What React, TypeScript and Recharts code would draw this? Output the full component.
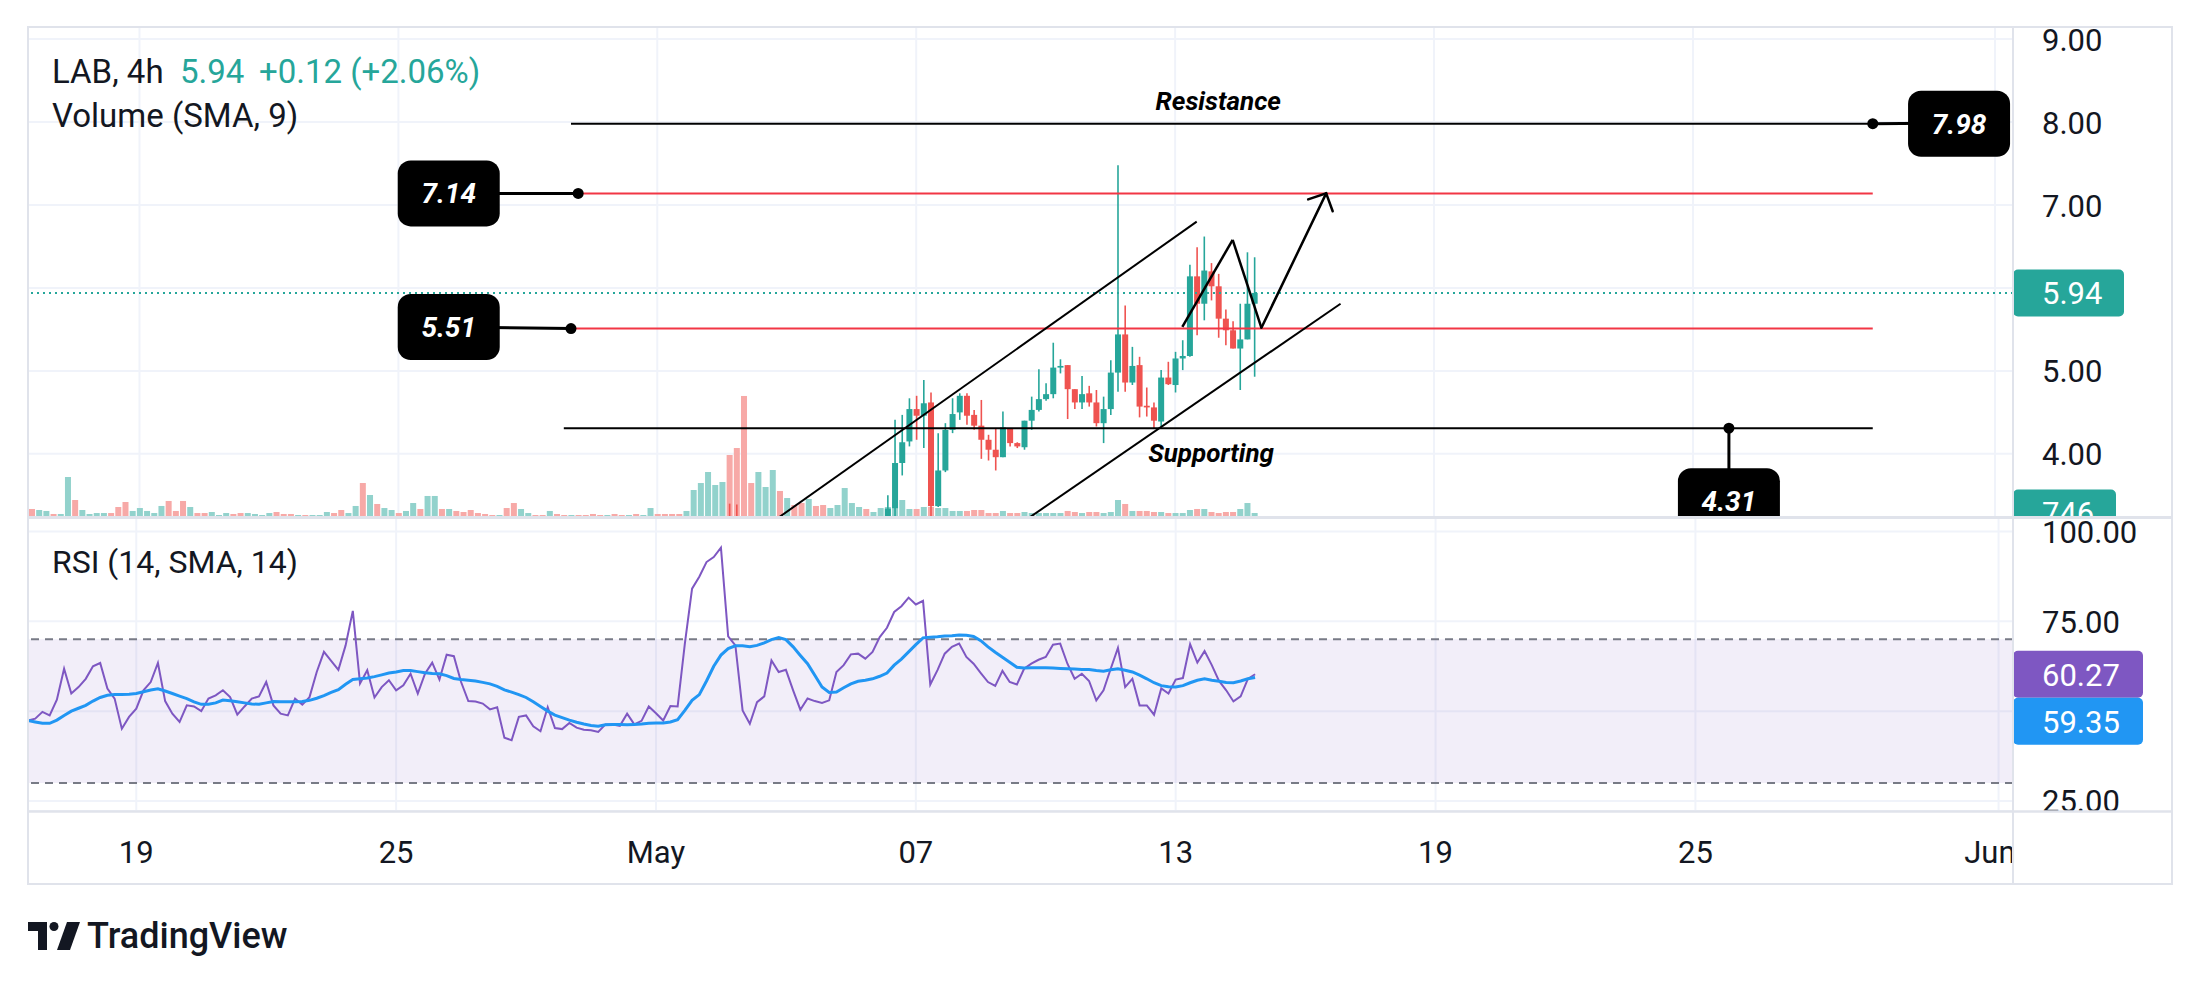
import React from "react"
import {
  ComposedChart,
  Bar,
  Line,
  XAxis,
  YAxis,
  CartesianGrid,
  ReferenceLine,
  ReferenceDot,
  ReferenceArea,
} from "recharts"

// 4h bars, slot 0 = Apr 16 12:00, slot 87 = May 1 00:00
const SLOTS = 276
const dateTicks = [15, 51, 87, 123, 159, 195, 231, 273]
const dateLabels = ["19", "25", "May", "07", "13", "19", "25", "Jun"]
const priceTicks = [4, 5, 6, 7, 8, 9]
const rsiTicks = [25, 50, 75, 100]

// [slot, open, high, low, close]
const candles: number[][] = [
  [97, 3.2, 3.4, 2.9, 3.0],
  [98, 3.15, 3.39, 2.9, 3.05],
  [119, 3.15, 3.5, 3.1, 3.34],
  [120, 3.345, 4.41, 3.25, 3.89],
  [121, 3.89, 4.47, 3.74, 4.14],
  [122, 4.15, 4.67, 4.09, 4.54],
  [123, 4.54, 4.7, 4.17, 4.46],
  [124, 4.46, 4.89, 4.07, 4.61],
  [125, 4.62, 4.74, 3.2, 3.37],
  [126, 3.37, 4.25, 3.36, 3.8],
  [127, 3.8, 4.37, 3.78, 4.29],
  [128, 4.29, 4.67, 4.25, 4.48],
  [129, 4.5, 4.73, 4.41, 4.7],
  [130, 4.7, 4.73, 4.35, 4.46],
  [131, 4.47, 4.53, 4.29, 4.34],
  [132, 4.34, 4.65, 3.94, 4.17],
  [133, 4.17, 4.23, 3.92, 4.05],
  [134, 4.05, 4.31, 3.8, 3.96],
  [135, 3.96, 4.51, 3.96, 4.32],
  [136, 4.31, 4.31, 4.09, 4.13],
  [137, 4.13, 4.14, 4.07, 4.09],
  [138, 4.08, 4.4, 4.05, 4.4],
  [139, 4.4, 4.69, 4.29, 4.53],
  [140, 4.53, 5.02, 4.51, 4.66],
  [141, 4.66, 4.85, 4.64, 4.72],
  [142, 4.72, 5.34, 4.67, 5.04],
  [143, 5.04, 5.14, 4.97, 5.06],
  [144, 5.07, 5.07, 4.42, 4.78],
  [145, 4.78, 4.78, 4.54, 4.62],
  [146, 4.62, 4.94, 4.54, 4.72],
  [147, 4.73, 4.82, 4.57, 4.62],
  [148, 4.62, 4.77, 4.33, 4.37],
  [149, 4.37, 4.69, 4.13, 4.54],
  [150, 4.54, 5.13, 4.47, 4.98],
  [151, 4.98, 7.48, 4.75, 5.44],
  [152, 5.44, 5.79, 4.75, 4.86],
  [153, 4.86, 5.29, 4.83, 5.06],
  [154, 5.07, 5.17, 4.44, 4.57],
  [155, 4.58, 4.8, 4.45, 4.56],
  [156, 4.56, 4.62, 4.31, 4.4],
  [157, 4.39, 5.01, 4.33, 4.92],
  [158, 4.92, 5.11, 4.83, 4.84],
  [159, 4.83, 5.23, 4.74, 5.15],
  [160, 5.15, 5.37, 5.01, 5.18],
  [161, 5.18, 6.28, 5.17, 6.14],
  [162, 6.14, 6.49, 5.43, 5.81],
  [163, 5.81, 6.62, 5.61, 6.21],
  [164, 6.2, 6.3, 5.85, 6.02],
  [165, 6.02, 6.17, 5.4, 5.63],
  [166, 5.63, 5.74, 5.31, 5.49],
  [167, 5.49, 5.6, 5.27, 5.27],
  [168, 5.27, 5.81, 4.77, 5.38],
  [169, 5.38, 6.43, 5.38, 5.81],
  [170, 5.81, 6.37, 4.93, 5.94],
]

const volume = [
  1490, 1300, 1120, 560, 560, 7440, 3160, 1300, 560, 740,
  740, 740, 1860, 2790, 1120, 1670, 1120, 740, 2050, 2980,
  1120, 2980, 1860, 740, 740, 930, 370, 740, 560, 740,
  740, 560, 370, 740, 930, 560, 560, 370, 370, 370,
  370, 930, 740, 1300, 740, 2050, 6320, 4090, 2420, 1670,
  1300, 740, 1120, 2600, 1490, 3910, 3910, 1490, 1490, 1120,
  930, 1300, 740, 560, 370, 370, 1670, 2600, 1490, 740,
  370, 370, 1120, 560, 370, 370, 370, 370, 560, 370,
  370, 560, 370, 370, 560, 370, 1670, 560, 560, 560,
  560, 1120, 5020, 6320, 8370, 5950, 6510, 11530, 12830, 22510,
  6320, 8370, 5580, 8740, 4840, 3530, 2230, 2600, 3350, 2050,
  2230, 1670, 2230, 5390, 2600, 1860, 1490, 930, 1670, 1860,
  2790, 3160, 1490, 1490, 1860, 1860, 1670, 1670, 1120, 1120,
  1120, 1300, 1300, 740, 740, 1120, 740, 740, 930, 740,
  740, 740, 740, 740, 1120, 930, 740, 930, 930, 740,
  930, 3160, 2420, 1120, 1120, 1120, 930, 930, 740, 740,
  740, 1300, 1490, 1490, 930, 740, 930, 930, 1490, 2600, 746,
]

// 1 = up bar, 0 = down bar
const volumeUp = [
  0, 1, 1, 0, 1, 1, 0, 1, 1, 1,
  1, 0, 0, 0, 1, 1, 1, 1, 1, 0,
  0, 0, 1, 0, 0, 1, 1, 1, 0, 0,
  1, 1, 1, 1, 0, 0, 0, 1, 0, 1,
  1, 1, 0, 0, 1, 1, 0, 1, 0, 1,
  1, 0, 1, 1, 0, 1, 1, 0, 1, 0,
  0, 0, 0, 0, 0, 1, 0, 0, 1, 1,
  0, 0, 1, 0, 0, 1, 0, 0, 0, 0,
  1, 0, 0, 1, 0, 1, 1, 0, 0, 0,
  0, 1, 1, 1, 1, 1, 1, 0, 0, 0,
  0, 1, 1, 1, 0, 1, 0, 0, 1, 0,
  0, 1, 1, 1, 1, 1, 0, 1, 1, 1,
  1, 1, 1, 0, 1, 0, 1, 1, 1, 1,
  0, 0, 0, 0, 0, 1, 0, 0, 1, 1,
  1, 1, 1, 1, 0, 0, 1, 0, 0, 1,
  1, 1, 0, 1, 0, 0, 0, 1, 0, 1,
  1, 1, 0, 1, 0, 0, 0, 0, 1, 1, 1,
]

const rsi = [
  47.4, 47.9, 49.8, 48.8, 53.2, 61.8, 54.9, 56.7, 59.0, 62.5,
  63.4, 56.3, 53.5, 45.1, 48.4, 50.7, 55.8, 58.1, 63.4, 52.8,
  49.3, 47.0, 51.6, 51.3, 50.0, 53.5, 54.4, 55.8, 53.9, 49.0,
  51.3, 53.5, 54.1, 58.1, 51.6, 49.3, 48.8, 53.5, 51.8, 53.9,
  60.9, 66.5, 64.0, 61.5, 68.3, 77.9, 57.7, 61.4, 53.8, 56.7,
  58.6, 55.8, 57.2, 60.4, 54.9, 60.4, 63.5, 58.8, 65.7, 65.3,
  58.1, 52.8, 52.7, 52.1, 50.5, 51.1, 42.6, 41.9, 48.4, 48.8,
  45.8, 44.4, 51.1, 45.3, 45.0, 46.7, 45.4, 44.8, 44.7, 44.2,
  46.3, 46.3, 45.9, 49.3, 46.3, 47.3, 51.3, 49.4, 47.4, 51.4,
  51.3, 68.8, 84.1, 87.4, 91.5, 92.9, 95.5, 70.8, 68.3, 50.2,
  46.5, 52.5, 54.1, 64.1, 60.9, 61.5, 55.8, 50.4, 53.5, 52.8,
  52.3, 53.0, 60.9, 62.8, 65.8, 66.0, 64.6, 66.5, 70.6, 73.2,
  77.6, 79.2, 81.6, 79.7, 80.7, 57.4, 61.4, 66.0, 67.9, 68.8,
  65.1, 63.2, 60.6, 58.1, 57.0, 61.2, 58.1, 57.4, 61.8, 63.2,
  64.3, 65.1, 68.5, 68.8, 63.2, 59.0, 60.4, 58.4, 53.0, 55.8,
  61.8, 67.6, 56.7, 59.0, 51.6, 51.6, 49.0, 56.3, 54.9, 58.8,
  59.2, 68.6, 63.5, 66.7, 62.8, 58.4, 55.8, 52.7, 54.1, 59.0, 60.27,
]

const rsiSma = [
  47.4, 47.0, 46.6, 46.6, 47.5, 48.8, 50.0, 50.8, 51.6, 52.8,
  53.8, 54.4, 54.6, 54.6, 54.7, 54.9, 55.4, 55.9, 56.2, 55.6,
  54.9, 54.2, 53.5, 52.6, 51.9, 51.9, 52.3, 53.1, 52.9, 52.6,
  52.3, 52.0, 51.9, 52.3, 52.7, 52.6, 52.6, 52.6, 52.7, 53.0,
  53.6, 54.3, 55.2, 56.0, 57.5, 58.8, 59.0, 59.2, 59.6, 60.1,
  60.6, 60.9, 61.3, 61.3, 61.0, 60.7, 60.5, 60.4, 59.9, 59.1,
  58.8, 58.6, 58.4, 58.0, 57.6, 56.9, 55.9, 55.3, 54.6, 53.8,
  52.6, 51.3, 50.0, 48.9, 48.2, 47.5, 46.9, 46.4, 46.0, 45.8,
  46.2, 46.3, 46.3, 46.2, 46.3, 46.4, 46.6, 46.7, 46.7, 47.0,
  47.6, 50.2, 53.0, 54.6, 58.4, 62.5, 65.6, 67.4, 68.2, 68.2,
  67.9, 68.3, 69.0, 69.9, 70.5, 69.9, 67.9, 65.5, 63.2, 60.0,
  56.7, 55.2, 55.3, 56.5, 57.6, 58.3, 58.6, 59.0, 59.7, 60.6,
  62.8, 64.5, 66.5, 68.5, 70.4, 70.6, 70.7, 70.9, 71.0, 71.2,
  71.1, 70.8, 69.6, 67.9, 66.4, 65.0, 63.6, 62.2, 62.0, 62.1,
  62.1, 62.1, 62.0, 61.9, 61.8, 61.7, 61.6, 61.6, 61.3, 61.1,
  61.5, 61.8, 61.4, 60.9, 60.0, 59.0, 57.9, 57.1, 56.8, 56.7,
  57.1, 57.9, 58.6, 59.0, 58.6, 58.3, 58.0, 57.9, 58.4, 59.0, 59.35,
]

const UP = "#26a69a"
const DOWN = "#ef5350"
const UP_VOL = "#92d2cc"
const DOWN_VOL = "#f7a9a7"
const RED_LINE = "#f23645"
const RSI_COLOR = "#7e57c2"
const SMA_COLOR = "#2196f3"
const TEXT = "#131722"
const GRID = "#f0f3fa"
const BORDER = "#e0e3eb"
const FONT = "Roboto, sans-serif"

const W = 2144
const AXIS_W = 159
const PAD_TOP = 7
const MAIN_H = 497
const RSI_H = 367
const TIME_H = 73

const lastClose = candles[candles.length - 1][4]
const lastVolume = volume[volume.length - 1]

const rows = Array.from({ length: SLOTS }, (_, i) => {
  const k = candles.find((c) => c[0] === i)
  return {
    i,
    vol: volume[i] ?? null,
    up: volumeUp[i] === 1,
    rsi: rsi[i] ?? null,
    sma: rsiSma[i] ?? null,
    o: k ? k[1] : null,
    h: k ? k[2] : null,
    l: k ? k[3] : null,
    c: k ? k[4] : null,
  }
})

const candleRange = (r: any) => (r.h == null ? null : [r.l, r.h])

function Candle(props: any) {
  const { x, y, width, height, payload } = props
  if (!payload || payload.h == null || !(height > 0)) return <g />
  const k = height / (payload.h - payload.l)
  const py = (v: number) => y + (payload.h - v) * k
  const color = payload.c >= payload.o ? UP : DOWN
  const top = py(Math.max(payload.o, payload.c))
  const bot = py(Math.min(payload.o, payload.c))
  const cx = x + width / 2
  return (
    <g>
      <line x1={cx} x2={cx} y1={y} y2={y + height} stroke={color} strokeWidth={1.6} />
      <rect x={x} y={top} width={width} height={Math.max(bot - top, 1.5)} fill={color} />
    </g>
  )
}

function VolumeBar(props: any) {
  const { x, y, width, height, payload } = props
  if (!payload || payload.vol == null || !(height > 0)) return <g />
  return <rect x={x} y={y} width={width} height={height} fill={payload.up ? UP_VOL : DOWN_VOL} />
}

function PriceTick(props: any) {
  const { x, y, payload } = props
  // 6.00 sits under the last-price tag
  if (payload.value === 6) return <g />
  return (
    <text x={x + 29} y={y + 11.5} fontSize={31} fill={TEXT} fontFamily={FONT}>
      {Number(payload.value).toFixed(2)}
    </text>
  )
}

function RsiTick(props: any) {
  const { x, y, payload } = props
  if (payload.value === 50) return <g />
  return (
    <text x={x + 29} y={y + 11.5} fontSize={31} fill={TEXT} fontFamily={FONT}>
      {Number(payload.value).toFixed(2)}
    </text>
  )
}

function DateTick(props: any) {
  const { x, y, payload } = props
  const idx = dateTicks.indexOf(payload.value)
  const last = idx === dateTicks.length - 1
  return (
    <text
      x={last ? x + 17 : x}
      y={y + 52}
      textAnchor={last ? "end" : "middle"}
      fontSize={31}
      fill={TEXT}
      fontFamily={FONT}
    >
      {dateLabels[idx]}
    </text>
  )
}

function AxisTag({ viewBox, text, color, w }: any) {
  if (!viewBox) return null
  const left = viewBox.x + viewBox.width
  const y = viewBox.y
  return (
    <g>
      <rect x={left} y={y - 23.5} width={w} height={47} rx={5} fill={color} />
      <text x={left + 29} y={y + 11.5} fontSize={31} fill="#fff" fontFamily={FONT}>
        {text}
      </text>
    </g>
  )
}

function RsiTags({ viewBox }: any) {
  if (!viewBox) return null
  const left = viewBox.x + viewBox.width
  const y = viewBox.y
  return (
    <g>
      <rect x={left} y={y - 23.5} width={130} height={47} rx={5} fill={RSI_COLOR} />
      <text x={left + 29} y={y + 11.5} fontSize={31} fill="#fff" fontFamily={FONT}>
        {rsi[rsi.length - 1].toFixed(2)}
      </text>
      <rect x={left} y={y + 23.5} width={130} height={47} rx={5} fill={SMA_COLOR} />
      <text x={left + 29} y={y + 58.5} fontSize={31} fill="#fff" fontFamily={FONT}>
        {rsiSma[rsiSma.length - 1].toFixed(2)}
      </text>
    </g>
  )
}

function CalloutBox({ cx, cy, text }: any) {
  return (
    <g>
      <rect x={cx - 51} y={cy - 33} width={102} height={66} rx={13} fill="#000" />
      <text
        x={cx}
        y={cy + 10}
        textAnchor="middle"
        fontSize={28}
        fontWeight={700}
        fontStyle="italic"
        fill="#fff"
        fontFamily={FONT}
      >
        {text}
      </text>
    </g>
  )
}

function Caption({ cx, cy, text }: any) {
  return (
    <text
      x={cx}
      y={cy}
      textAnchor="middle"
      fontSize={26}
      fontWeight={700}
      fontStyle="italic"
      fill="#000"
      fontFamily={FONT}
    >
      {text}
    </text>
  )
}

function ArrowLine(props: any) {
  const { x1, y1, x2, y2, clipPath } = props
  const a = Math.atan2(y2 - y1, x2 - x1)
  const len = 19
  const s = 0.8
  const w1x = x2 - len * Math.cos(a - s)
  const w1y = y2 - len * Math.sin(a - s)
  const w2x = x2 - len * Math.cos(a + s)
  const w2y = y2 - len * Math.sin(a + s)
  return (
    <g clipPath={clipPath}>
      <line x1={x1} y1={y1} x2={x2} y2={y2} stroke="#000" strokeWidth={2.5} strokeLinecap="round" />
      <polyline
        points={`${w1x},${w1y} ${x2},${y2} ${w2x},${w2y}`}
        fill="none"
        stroke="#000"
        strokeWidth={2.5}
        strokeLinecap="round"
      />
    </g>
  )
}

const dot = (x: number, y: number, key: string) => (
  <ReferenceDot key={key} x={x} y={y} r={5.5} fill="#000" stroke="none" ifOverflow="visible" />
)

function MainPane() {
  return (
    <div style={{ position: "absolute", left: 28, top: 27 - PAD_TOP, width: W, height: MAIN_H, overflow: "hidden" }}>
      {/* grid + volume underneath */}
      <div style={{ position: "absolute", left: 0, top: 0 }}>
        <ComposedChart width={W} height={MAIN_H} data={rows} margin={{ top: PAD_TOP, right: AXIS_W, bottom: 0, left: 0 }}>
          <CartesianGrid stroke={GRID} strokeWidth={2} />
          <XAxis dataKey="i" hide ticks={dateTicks} interval={0} />
          <YAxis hide domain={[3.239, 9.146]} allowDataOverflow ticks={priceTicks} />
          <YAxis yAxisId="v" hide domain={[0, 91140]} allowDataOverflow />
          <Bar yAxisId="v" dataKey="vol" barSize={6} shape={VolumeBar} isAnimationActive={false} />
          <ReferenceLine
            yAxisId="v"
            y={lastVolume}
            stroke="none"
            label={(p: any) => <AxisTag {...p} text={String(lastVolume)} color={UP} w={103} />}
          />
        </ComposedChart>
      </div>
      <div style={{ position: "absolute", left: 0, top: 0 }}>
        <ComposedChart width={W} height={MAIN_H} data={rows} margin={{ top: PAD_TOP, right: 0, bottom: 0, left: 0 }}>
          <XAxis dataKey="i" hide />
          <YAxis
            orientation="right"
            width={AXIS_W}
            domain={[3.239, 9.146]}
            allowDataOverflow
            ticks={priceTicks}
            interval={0}
            axisLine={false}
            tickLine={false}
            tickSize={0}
            tickMargin={0}
            tick={PriceTick}
          />
          <Bar dataKey={candleRange} barSize={6} shape={Candle} isAnimationActive={false} />

          <ReferenceLine y={lastClose} stroke={UP} strokeWidth={2} strokeDasharray="2 4"
            label={(p: any) => <AxisTag {...p} text={lastClose.toFixed(2)} color={UP} w={111} />} />

          {/* horizontal levels */}
          <ReferenceLine segment={[{ x: 75, y: 7.98 }, { x: 256, y: 7.98 }]} stroke="#000" strokeWidth={2} />
          <ReferenceLine segment={[{ x: 74, y: 4.31 }, { x: 256, y: 4.31 }]} stroke="#000" strokeWidth={2} />
          <ReferenceLine segment={[{ x: 76, y: 7.14 }, { x: 256, y: 7.14 }]} stroke={RED_LINE} strokeWidth={2} />
          <ReferenceLine segment={[{ x: 75, y: 5.51 }, { x: 256, y: 5.51 }]} stroke={RED_LINE} strokeWidth={2} />

          {/* channel */}
          <ReferenceLine segment={[{ x: 100, y: 2.995 }, { x: 162, y: 6.8 }]} stroke="#000" strokeWidth={2} ifOverflow="hidden" />
          <ReferenceLine segment={[{ x: 135, y: 3.01 }, { x: 182, y: 5.81 }]} stroke="#000" strokeWidth={2} ifOverflow="hidden" />

          {/* projected path */}
          <ReferenceLine segment={[{ x: 160, y: 5.53 }, { x: 167, y: 6.58 }]} stroke="#000" strokeWidth={2.5} />
          <ReferenceLine segment={[{ x: 167, y: 6.58 }, { x: 171, y: 5.52 }]} stroke="#000" strokeWidth={2.5} />
          <ReferenceLine segment={[{ x: 171, y: 5.52 }, { x: 180, y: 7.14 }]} shape={ArrowLine} />

          {/* callout connectors */}
          <ReferenceLine segment={[{ x: 58, y: 7.14 }, { x: 76, y: 7.14 }]} stroke="#000" strokeWidth={3} />
          <ReferenceLine segment={[{ x: 58, y: 5.53 }, { x: 75, y: 5.51 }]} stroke="#000" strokeWidth={3} />
          <ReferenceLine segment={[{ x: 256, y: 7.98 }, { x: 268, y: 7.99 }]} stroke="#000" strokeWidth={3} />
          <ReferenceLine segment={[{ x: 236, y: 4.31 }, { x: 236, y: 3.43 }]} stroke="#000" strokeWidth={3} />

          {dot(76, 7.14, "d1")}
          {dot(75, 5.51, "d2")}
          {dot(256, 7.98, "d3")}
          {dot(236, 4.31, "d4")}

          <ReferenceDot x={58} y={7.14} ifOverflow="visible" shape={(p: any) => <CalloutBox {...p} text="7.14" />} />
          <ReferenceDot x={58} y={5.53} ifOverflow="visible" shape={(p: any) => <CalloutBox {...p} text="5.51" />} />
          <ReferenceDot x={268} y={7.98} ifOverflow="visible" shape={(p: any) => <CalloutBox {...p} text="7.98" />} />
          <ReferenceDot x={236} y={3.43} ifOverflow="visible" shape={(p: any) => <CalloutBox {...p} text="4.31" />} />

          <ReferenceDot x={165} y={8.15} ifOverflow="visible" shape={(p: any) => <Caption {...p} text="Resistance" />} />
          <ReferenceDot x={164} y={3.9} ifOverflow="visible" shape={(p: any) => <Caption {...p} text="Supporting" />} />
        </ComposedChart>
      </div>
    </div>
  )
}

function RsiPane() {
  return (
    <div style={{ position: "absolute", left: 28, top: 517, width: W, height: RSI_H, overflow: "hidden" }}>
      <ComposedChart width={W} height={RSI_H} data={rows} margin={{ top: 0, right: 0, bottom: 0, left: 0 }}>
        <CartesianGrid stroke={GRID} strokeWidth={2} />
        <XAxis
          dataKey="i"
          ticks={dateTicks}
          interval={0}
          height={TIME_H}
          axisLine={false}
          tickLine={false}
          tickSize={0}
          tickMargin={0}
          tick={DateTick}
        />
        <YAxis
          orientation="right"
          width={AXIS_W}
          domain={[22.2, 104.04]}
          allowDataOverflow
          ticks={rsiTicks}
          interval={0}
          axisLine={false}
          tickLine={false}
          tickSize={0}
          tickMargin={0}
          tick={RsiTick}
        />
        <ReferenceArea y1={30} y2={70} fill={RSI_COLOR} fillOpacity={0.1} stroke="none" />
        <ReferenceLine y={70} stroke="#787b86" strokeWidth={2} strokeDasharray="8 6" />
        <ReferenceLine y={30} stroke="#787b86" strokeWidth={2} strokeDasharray="8 6" />
        <Line dataKey="rsi" stroke={RSI_COLOR} strokeWidth={2} dot={false} isAnimationActive={false} />
        <Line dataKey="sma" stroke={SMA_COLOR} strokeWidth={3} dot={false} isAnimationActive={false} />
        <ReferenceLine y={rsi[rsi.length - 1]} stroke="none" label={(p: any) => <RsiTags {...p} />} />
      </ComposedChart>
    </div>
  )
}

function Overlay() {
  return (
    <svg width={2200} height={982} style={{ position: "absolute", left: 0, top: 0, pointerEvents: "none" }}>
      <rect x={27} y={20} width={1987} height={6} fill="#fff" />
      <g fill="none" stroke={BORDER}>
        <line x1={27} x2={2173} y1={27} y2={27} strokeWidth={2} />
        <line x1={28} x2={28} y1={27} y2={885} strokeWidth={2} />
        <line x1={2172} x2={2172} y1={27} y2={885} strokeWidth={2} />
        <line x1={27} x2={2173} y1={884} y2={884} strokeWidth={2} />
        <line x1={27} x2={2173} y1={517.5} y2={517.5} strokeWidth={3} />
        <line x1={27} x2={2173} y1={811.5} y2={811.5} strokeWidth={2.5} />
        <line x1={2013} x2={2013} y1={27} y2={885} strokeWidth={2} />
      </g>
      <g fontFamily={FONT} fontSize={33}>
        <text x={52} y={83} fill={TEXT}>LAB, 4h</text>
        <text x={180} y={83} fill={UP}>{lastClose.toFixed(2)}</text>
        <text x={259} y={83} fill={UP}>+0.12 (+2.06%)</text>
        <text x={52} y={127} fill={TEXT}>Volume (SMA, 9)</text>
        <text x={52} y={573} fill={TEXT} fontSize={32}>RSI (14, SMA, 14)</text>
      </g>
      <g fill={TEXT}>
        <path d="M28 922 H47 V950 H38 V931 H28 Z" />
        <circle cx={54} cy={926.5} r={4.5} />
        <path d="M67 922 H80 L70 950 H57 Z" />
        <text x={87} y={948} fontFamily={FONT} fontSize={36} fontWeight={500}>TradingView</text>
      </g>
    </svg>
  )
}

export default function App() {
  return (
    <div
      style={{
        position: "absolute",
        left: 0,
        top: 0,
        width: 2200,
        height: 982,
        background: "#fff",
        fontFamily: FONT,
        overflow: "hidden",
      }}
    >
      <MainPane />
      <RsiPane />
      <Overlay />
    </div>
  )
}
